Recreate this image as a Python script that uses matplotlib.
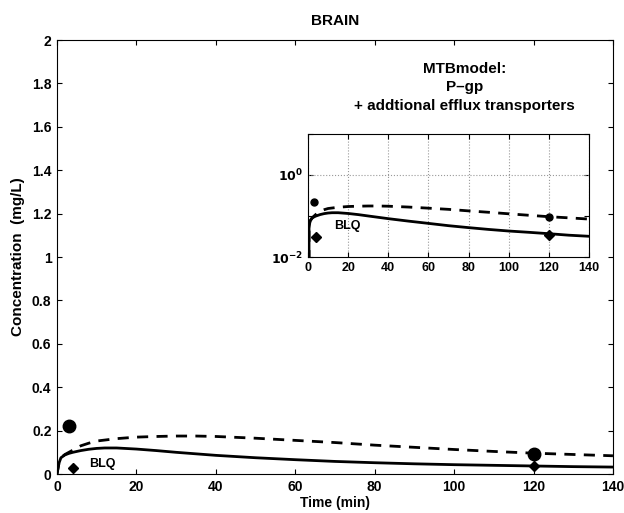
import matplotlib
matplotlib.use("Agg")
import matplotlib.pyplot as plt
from matplotlib.ticker import FixedLocator, FuncFormatter

t_solid = [0, 0.5, 1, 2, 3, 4, 6, 8, 10, 12, 15, 20, 25, 30, 40, 50, 60, 70, 80, 90, 100, 110, 120, 130, 140]
c_solid = [0, 0.05, 0.075, 0.088, 0.095, 0.10, 0.108, 0.114, 0.118, 0.12, 0.12, 0.115, 0.108, 0.10, 0.086,
           0.075, 0.066, 0.058, 0.052, 0.047, 0.043, 0.040, 0.037, 0.034, 0.032]
t_dash = [0, 0.5, 1, 2, 4, 6, 8, 10, 15, 20, 25, 30, 35, 40, 50, 60, 70, 80, 90, 100, 110, 120, 130, 140]
c_dash = [0, 0.05, 0.075, 0.09, 0.11, 0.13, 0.142, 0.152, 0.163, 0.17, 0.173, 0.175, 0.175, 0.173, 0.165,
          0.155, 0.145, 0.133, 0.123, 0.113, 0.104, 0.096, 0.090, 0.084]
t_circle = [3, 120]
c_circle = [0.22, 0.093]
t_diamond = [4, 120]
c_diamond = [0.03, 0.035]

xticks = [0, 20, 40, 60, 80, 100, 120, 140]
yticks = [0, 0.2, 0.4, 0.6, 0.8, 1, 1.2, 1.4, 1.6, 1.8, 2]

plt.rcParams['font.family'] = ['Liberation Sans', 'DejaVu Sans']
fig = plt.figure(figsize=(6.24, 5.13), dpi=100)
ax = fig.add_axes([0.0913, 0.076, 0.891, 0.846])
ax.plot(t_solid, c_solid, 'k-', lw=2)
ax.plot(t_dash, c_dash, 'k--', lw=2, dashes=(4, 3))
ax.plot(t_circle, c_circle, 'ko', ms=9)
ax.plot(t_diamond, c_diamond, 'kD', ms=5)
ax.text(8, 0.045, 'BLQ', fontsize=9, fontweight='bold', va='center')
ax.set_xlim(0, 140)
ax.set_ylim(0, 2)
ax.set_xticks(xticks)
ax.set_yticks(yticks)
ax.set_yticklabels([f'{v:g}' for v in yticks])
ax.tick_params(direction='in', labelsize=10, top=True, right=True, pad=4)
for lab in ax.get_xticklabels() + ax.get_yticklabels():
    lab.set_fontweight('bold')
ax.set_xlabel('Time (min)', fontsize=10, fontweight='bold', labelpad=2)
ax.set_ylabel('Concentration  (mg/L)', fontsize=11, fontweight='bold', labelpad=5)
ax.set_title('BRAIN', fontsize=11, fontweight='bold', pad=11)
ax.text(102.7, 1.9, 'MTBmodel:\nP\u2013gp\n+ addtional efflux transporters', ha='center', va='top',
        fontsize=11, fontweight='bold', linespacing=1.4)

ins = fig.add_axes([0.4936, 0.499, 0.4503, 0.24])
ins.plot(t_solid, c_solid, 'k-', lw=2)
ins.plot(t_dash, c_dash, 'k--', lw=2, dashes=(4, 3))
ins.plot(t_circle, c_circle, 'ko', ms=5)
ins.plot(t_diamond, c_diamond, 'kD', ms=5)
ins.text(13, 0.058, 'BLQ', fontsize=9, fontweight='bold', va='center')
ins.set_yscale('log')
ins.set_xlim(0, 140)
ins.set_ylim(1e-2, 1e1)
ins.set_xticks(xticks)
ins.yaxis.set_major_locator(FixedLocator([1e-2, 1e-1, 1e0, 1e1]))
ins.yaxis.set_minor_locator(FixedLocator([]))
ins.yaxis.set_major_formatter(FuncFormatter(lambda v, p: {1e-2: r'$\mathbf{10^{-2}}$', 1e0: r'$\mathbf{10^{0}}$'}.get(v, '')))
ins.tick_params(direction='in', labelsize=9, top=True, right=True)
for lab in ins.get_xticklabels():
    lab.set_fontweight('bold')
ins.grid(True, which='major', linestyle=':', color='#999999', lw=0.8)
ins.grid(False, axis='y')
ins.axhline(1.0, linestyle=':', color='#999999', lw=0.8)
fig.savefig('out.png', dpi=100)
